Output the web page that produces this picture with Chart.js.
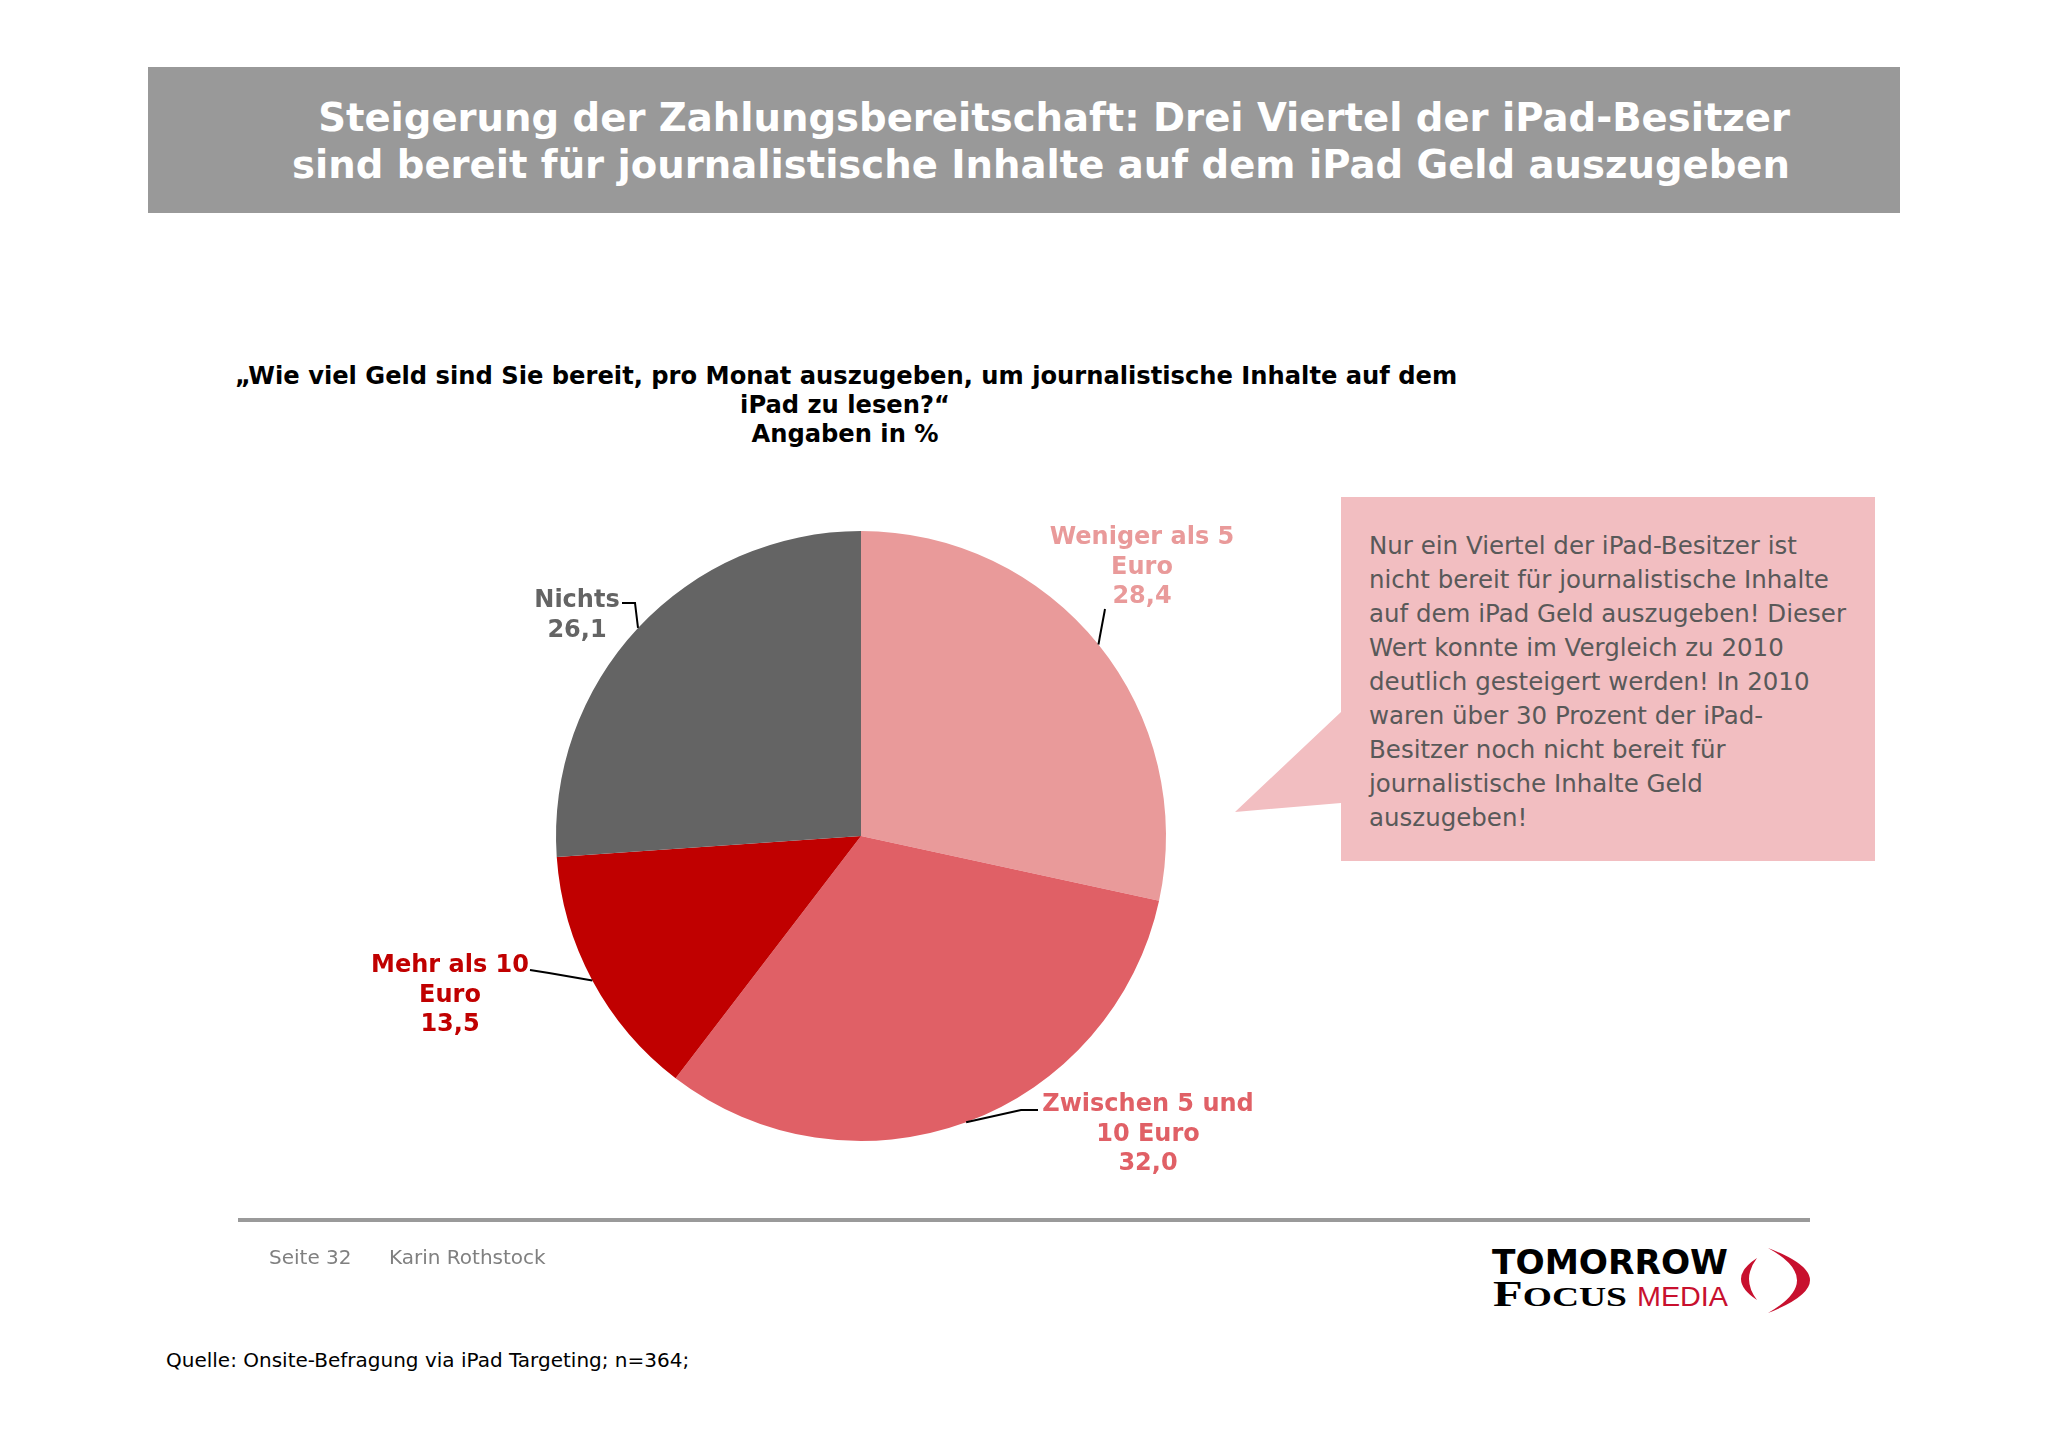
<!DOCTYPE html>
<html>
<head>
<meta charset="utf-8">
<script src="https://cdn.jsdelivr.net/npm/chart.js@4/dist/chart.umd.min.js"></script>
<style>
  html, body { margin: 0; padding: 0; background: #fff; }
  body { width: 2048px; height: 1447px; position: relative; overflow: hidden; font-family: "DejaVu Sans", Verdana, sans-serif; }
  .abs { position: absolute; white-space: nowrap; }
  #header { left: 148px; top: 67px; width: 1752px; height: 146px; background: #999999; }
  #title { right: 258px; top: 94px; text-align: right; color: #fff; font-weight: bold; font-size: 38.6px; line-height: 47px; }
  #question { left: 235px; width: 1220px; top: 362px; text-align: center; color: #000; font-weight: bold; font-size: 24.2px; line-height: 29px; }
  #callout { left: 0; top: 0; }
  #note { left: 1369px; top: 529px; color: #595959; font-size: 24.5px; line-height: 34px; }
  #rule { left: 238px; top: 1218px; width: 1572px; height: 4px; background: #9a9a9a; }
  #page { left: 269px; top: 1245px; color: #808080; font-size: 20px; }
  #author { left: 389px; top: 1245px; color: #808080; font-size: 20px; }
  #source { left: 166px; top: 1348px; color: #000; font-size: 20px; }
  #chart { left: 300px; top: 400px; }
</style>
</head>
<body>
<div id="header" class="abs"></div>
<div id="title" class="abs">Steigerung der Zahlungsbereitschaft: Drei Viertel der iPad-Besitzer<br>sind bereit für journalistische Inhalte auf dem iPad Geld auszugeben</div>
<div id="question" class="abs">„Wie viel Geld sind Sie bereit, pro Monat auszugeben, um journalistische Inhalte auf dem<br>iPad zu lesen?“<br>Angaben in %</div>

<svg id="callout" class="abs" width="2048" height="1447">
  <polygon points="1341,497 1875,497 1875,861 1341,861 1341,803 1235,812 1341,712" fill="#F2BEC1"/>
  <!-- logo -->
  <text x="1492" y="1274" font-family="DejaVu Sans" font-weight="bold" font-size="33" fill="#000" textLength="236" lengthAdjust="spacingAndGlyphs">TOMORROW</text>
  <text x="1493" y="1306" font-family="Liberation Serif" font-weight="bold" fill="#000" textLength="134" lengthAdjust="spacingAndGlyphs"><tspan font-size="35">F</tspan><tspan font-size="27">OCUS</tspan></text>
  <text x="1637" y="1306" font-family="Liberation Sans" font-size="28" fill="#C8102E" textLength="91" lengthAdjust="spacingAndGlyphs">MEDIA</text>
  <path d="M1757,1258 Q1725,1279 1757,1300 Q1741,1279 1757,1258 Z" fill="#C8102E"/>
  <path d="M1768,1248 Q1852,1280 1768,1313 Q1826,1280 1768,1248 Z" fill="#C8102E"/>
</svg>
<div id="note" class="abs">Nur ein Viertel der iPad-Besitzer ist<br>nicht bereit für journalistische Inhalte<br>auf dem iPad Geld auszugeben! Dieser<br>Wert konnte im Vergleich zu 2010<br>deutlich gesteigert werden! In 2010<br>waren über 30 Prozent der iPad-<br>Besitzer noch nicht bereit für<br>journalistische Inhalte Geld<br>auszugeben!</div>

<canvas id="chart" class="abs" width="1140" height="860"></canvas>

<div id="rule" class="abs"></div>
<div id="page" class="abs">Seite 32</div>
<div id="author" class="abs">Karin Rothstock</div>
<div id="source" class="abs">Quelle: Onsite-Befragung via iPad Targeting; n=364;</div>

<script>
const categories = ['Weniger als 5 Euro', 'Zwischen 5 und 10 Euro', 'Mehr als 10 Euro', 'Nichts'];
const values     = [28.4, 32.0, 13.5, 26.1];
const labelLines = [['Weniger als 5', 'Euro'], ['Zwischen 5 und', '10 Euro'], ['Mehr als 10', 'Euro'], ['Nichts']];
const colors     = ['#E99A9A', '#E06066', '#C00000', '#646464'];

// label placement relative to pie centre: text centre and leader line points
const labelPos = [
    { text: [281, -298], line: [[244, -227]] },
    { text: [287, 269],  line: [[160, 274], [177, 274]] },
    { text: [-411, 130], line: [[-312, 137], [-331, 134]] },
    { text: [-284, -235], line: [[-226, -233], [-239, -233]] }
];

const calloutLabels = {
    id: 'calloutLabels',
    afterDatasetsDraw(chart) {
        const ctx  = chart.ctx;
        const meta = chart.getDatasetMeta(0);
        meta.data.forEach(function (arc, i) {
            const p   = arc.getProps(['x', 'y', 'startAngle', 'endAngle', 'outerRadius'], true);
            const mid = (p.startAngle + p.endAngle) / 2;
            const pos = labelPos[i];

            // leader line from the slice edge
            ctx.save();
            ctx.strokeStyle = '#000';
            ctx.lineWidth = 2;
            ctx.beginPath();
            ctx.moveTo(p.x + Math.cos(mid) * p.outerRadius, p.y + Math.sin(mid) * p.outerRadius);
            pos.line.forEach(function (pt) { ctx.lineTo(p.x + pt[0], p.y + pt[1]); });
            ctx.stroke();

            // label text + value
            const lines = labelLines[i].concat([values[i].toFixed(1).replace('.', ',')]);
            ctx.fillStyle = colors[i];
            ctx.font = 'bold 24px "DejaVu Sans", Verdana, sans-serif';
            ctx.textAlign = 'center';
            ctx.textBaseline = 'middle';
            lines.forEach(function (t, k) {
                ctx.fillText(t, p.x + pos.text[0], p.y + pos.text[1] + k * 29.5);
            });
            ctx.restore();
        });
    }
};

const ctx = document.getElementById('chart').getContext('2d');
new Chart(ctx, {
    type: 'pie',
    data: {
        labels: categories,
        datasets: [{
            data: values,
            backgroundColor: colors,
            borderWidth: 0,
            radius: 305
        }]
    },
    options: {
        responsive: false,
        animation: false,
        layout: { padding: { left: 256, top: 131, right: 274, bottom: 119 } },
        plugins: {
            legend: { display: false },
            tooltip: { enabled: false }
        }
    },
    plugins: [calloutLabels]
});
</script>
</body>
</html>
